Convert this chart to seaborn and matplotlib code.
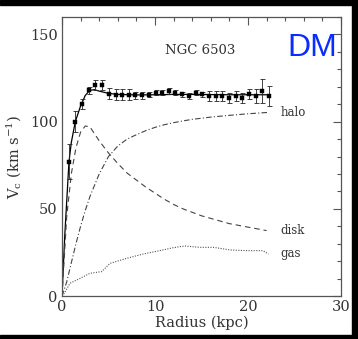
import numpy as np
import pandas as pd
import matplotlib
matplotlib.use("Agg")
import matplotlib.pyplot as plt
from matplotlib.patches import Rectangle
from matplotlib.ticker import MultipleLocator
import seaborn as sns

# ---- data ----
obs_r = [0.75, 1.43, 2.2, 2.9, 3.6, 4.3, 5.05, 5.77, 6.5, 7.2, 7.9, 8.6, 9.35, 10.07,
         10.8, 11.5, 12.2, 12.9, 13.66, 14.38, 15.09, 15.81, 16.53, 17.24, 17.96,
         18.68, 19.39, 20.11, 20.83, 21.54, 22.26]
obs_v = [77, 100, 110, 118, 121, 121, 116, 115.5, 115.5, 115.5, 115, 115, 115.5, 116.5,
         116.5, 117.5, 116.5, 115.7, 114.7, 116.6, 115.7, 114.7, 114.7, 114.7, 113.7,
         114.7, 113.7, 115.7, 114.7, 117.5, 114.7]
obs_err = [10, 6, 3, 2, 3, 3, 3, 3, 3, 3, 2, 2, 1.5, 1.5,
           1.5, 1.5, 1.5, 1.5, 1.5, 1.5, 1.5, 3, 3, 3, 3,
           3, 3, 3, 4, 7, 6]

fit_r = [0, 0.3, 0.75, 1.0, 1.43, 2.0, 2.5, 3.0, 3.5, 4.0, 5.0, 6.0, 8.0, 10, 12, 14, 16, 18, 20, 22.3]
fit_v = [0, 35, 77, 88, 100, 109, 115, 118, 118.3, 117.5, 116.2, 115.6, 115.3, 115.4, 115.6,
         115.6, 115.5, 115.4, 115.4, 115.4]

disk_r = [0, 0.5, 1, 1.5, 2, 2.5, 3, 4, 5, 6, 7, 8, 9, 10, 11, 12, 13, 14, 15, 16, 17, 18, 19, 20, 21, 22]
disk_v = [0, 45, 70, 85, 94, 97.5, 97, 89, 82, 76, 70.5, 66.5, 62.5, 59, 55.5, 52.5, 50, 48,
          46, 44.5, 43, 41.5, 40.5, 39.5, 38.5, 37.5]

halo_r = [0, 0.5, 1, 1.5, 2, 2.5, 3, 4, 5, 6, 7, 8, 9, 10, 11, 12, 13, 14, 16, 18, 20, 22.2]
halo_v = [0, 8, 19, 30, 40, 49, 57, 70, 80, 86, 90, 92.5, 94.8, 96.7, 98.2, 99.4, 100.4,
          101.3, 102.6, 103.6, 104.5, 105.3]

gas_r = [0, 0.14, 0.86, 1.94, 3.0, 4.27, 5.16, 6.95, 8.74, 10.5, 11.97, 13.2, 14.8, 16.3,
         18.1, 19.9, 21.6, 22.2]
gas_v = [0, 0.6, 7.3, 10.1, 13, 14, 18.7, 21.6, 24.1, 26, 27.7, 28.7, 27.9, 27.9, 26.4,
         26, 26, 24.1]

curve_labels = ["halo", "disk", "gas"]
label_pos_v = [105, 37.3, 24.6]
title_text = "NGC 6503"
badge_text = "DM"

# ---- figure ----
sns.set_theme(style="white")
plt.rcParams["font.family"] = ["DejaVu Serif"]
plt.rcParams["mathtext.fontset"] = "dejavuserif"

W, H = 358, 339
fig = plt.figure(figsize=(W / 100, H / 100), dpi=100)
fig.patch.set_facecolor("white")
ax = fig.add_axes([62 / W, (H - 296) / H, (341 - 62) / W, (296 - 17) / H])

txt = "#333333"

sns.lineplot(x=fit_r, y=fit_v, ax=ax, color="black", lw=0.9, sort=False)
sns.lineplot(x=disk_r, y=disk_v, ax=ax, color="#444444", lw=0.8, sort=False)
ax.lines[-1].set_dashes([5, 3.5])
sns.lineplot(x=halo_r, y=halo_v, ax=ax, color="#444444", lw=0.8, sort=False)
ax.lines[-1].set_dashes([5, 2, 1, 2])
sns.lineplot(x=gas_r, y=gas_v, ax=ax, color="#555555", lw=0.8, sort=False)
ax.lines[-1].set_dashes([1, 1.3])

ax.errorbar(obs_r, obs_v, yerr=obs_err, fmt="none", ecolor="#222222", elinewidth=0.6,
            capsize=1.8, capthick=0.6)
sns.scatterplot(x=obs_r, y=obs_v, ax=ax, marker="s", s=8, color="black",
                edgecolor="black", linewidth=0.3, zorder=5)

ax.set_xlim(0, 30)
ax.set_ylim(0, 160)
ax.xaxis.set_major_locator(MultipleLocator(10))
ax.xaxis.set_minor_locator(MultipleLocator(2))
ax.yaxis.set_major_locator(MultipleLocator(50))
ax.yaxis.set_minor_locator(MultipleLocator(10))
ax.tick_params(which="both", direction="in", top=True, right=True, colors="#555555",
               labelcolor=txt, labelsize=10.5, width=0.8)
ax.tick_params(which="major", length=6, pad=3)
ax.tick_params(which="minor", length=3)
for s in ax.spines.values():
    s.set_color("#555555")
    s.set_linewidth(0.9)

ax.set_xlabel("Radius (kpc)", fontsize=10.5, color=txt, labelpad=1)
ax.set_ylabel(r"V$_{\rm c}$ (km s$^{-1}$)", fontsize=10.5, color=txt, labelpad=4)

for lab, yv in zip(curve_labels, label_pos_v):
    ax.text(23.5, yv, lab, fontsize=8.5, color=txt, va="center", ha="left")

ax.text(14.9, 141, title_text, fontsize=9.5, color=txt, ha="center", va="center")
ax.text(0.986, (296 - 56) / 279, badge_text, transform=ax.transAxes, ha="right",
        va="baseline", fontsize=23, color="#0a2cff", family="Liberation Sans")

# black frame bars of the picture
fig.patches.append(Rectangle((0, 1 - 5 / H), 1, 5 / H, transform=fig.transFigure,
                             color="black", zorder=10))
fig.patches.append(Rectangle((1 - 6 / W, 0), 6 / W, 1, transform=fig.transFigure,
                             color="black", zorder=10))
fig.patches.append(Rectangle((0, 0), 1, 4 / H, transform=fig.transFigure,
                             color="black", zorder=10))

fig.savefig("out.png", dpi=100, facecolor="white")
